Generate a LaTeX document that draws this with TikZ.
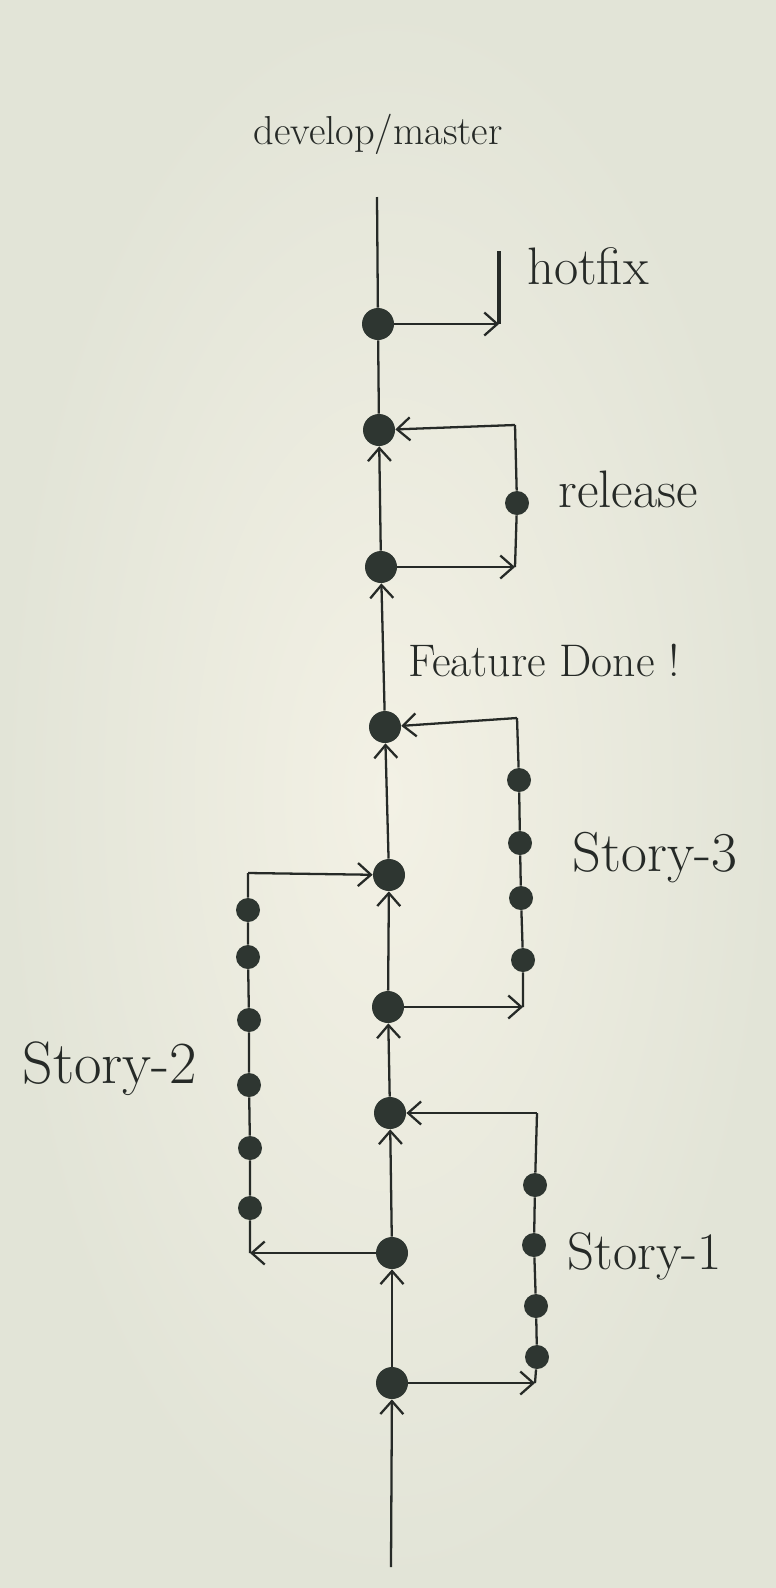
\documentclass[tikz,border=0pt]{standalone}
\usetikzlibrary{arrows.meta}
\definecolor{paper}{HTML}{F3F1E5}
\definecolor{paperedge}{HTML}{E2E4D7}
\definecolor{ink}{HTML}{262A27}
\definecolor{dot}{HTML}{2E3631}
\tikzset{
  commit/.style={circle,fill=dot,inner sep=0pt,minimum size=6.4mm},
  storycommit/.style={circle,fill=dot,inner sep=0pt,minimum size=4.8mm},
  branch/.style={draw=ink,line width=1.3pt},
  lbl/.style={text=ink,font=\fontsize{30}{34}\selectfont},
  >={Straight Barb[length=2.6mm,width=4.6mm]}
}
\begin{document}
\begin{tikzpicture}[x=0.2mm,y=-0.2mm]
\shade [inner color=paper,outer color=paperedge] (0,0) rectangle (776,1588);
\useasboundingbox (0,0) rectangle (776,1588);
\coordinate (top) at (377,197);
\coordinate (bot) at (391,1567);
\node [commit] (c1) at (378,324) {};
\node [commit] (c2) at (379,430) {};
\node [commit] (c3) at (381,567) {};
\node [commit] (c4) at (385,727) {};
\node [commit] (c5) at (389,875) {};
\node [commit] (c6) at (388,1007) {};
\node [commit] (c7) at (390,1113) {};
\node [commit] (c8) at (392,1253) {};
\node [commit] (c9) at (392,1383) {};
\draw [branch,->] (bot) -- (c9);
\draw [branch,->] (c9) -- (c8);
\draw [branch,->] (c8) -- (c7);
\draw [branch,->] (c7) -- (c6);
\draw [branch,->] (c6) -- (c5);
\draw [branch,->] (c5) -- (c4);
\draw [branch,->] (c4) -- (c3);
\draw [branch,->] (c3) -- (c2);
\draw [branch] (c2) -- (c1) -- (top);
\node [lbl,font=\fontsize{23}{28}\selectfont] (dm) at (378,134) {develop/master};
% hotfix
\coordinate (hf) at (499,324);
\coordinate (hftop) at (499,251);
\draw [branch,->] (c1) -- (hf);
\draw [branch,line width=2.4pt] (hf) -- (hftop);
\node [lbl] (hotfix) at (588,266) {hotfix};
% release
\coordinate (rb) at (515,567);
\coordinate (rt) at (515,425);
\node [storycommit] (r1) at (517,503) {};
\draw [branch,->] (c3) -- (rb);
\draw [branch] (rb) -- (r1) -- (rt);
\draw [branch,->] (rt) -- (c2);
\node [lbl] (release) at (628,489) {release};
\node [lbl,font=\fontsize{26}{30}\selectfont] (done) at (544,660) {Feature Done !};
% story-3
\coordinate (s3b) at (523,1007);
\coordinate (s3t) at (517,718);
\node [storycommit] (s31) at (519,780) {};
\node [storycommit] (s32) at (520,843) {};
\node [storycommit] (s33) at (521,898) {};
\node [storycommit] (s34) at (523,960) {};
\draw [branch,->] (c6) -- (s3b);
\draw [branch] (s3b) -- (s34) -- (s33) -- (s32) -- (s31) -- (s3t);
\draw [branch,->] (s3t) -- (c4);
\node [lbl,font=\fontsize{32}{36}\selectfont] (story3) at (655,858) {Story-3};
% story-2
\coordinate (s2b) at (250,1253);
\coordinate (s2t) at (248,873);
\node [storycommit] (s21) at (248,910) {};
\node [storycommit] (s22) at (248,957) {};
\node [storycommit] (s23) at (249,1020) {};
\node [storycommit] (s24) at (249,1085) {};
\node [storycommit] (s25) at (250,1148) {};
\node [storycommit] (s26) at (250,1208) {};
\draw [branch,->] (c8) -- (s2b);
\draw [branch] (s2b) -- (s26) -- (s25) -- (s24) -- (s23) -- (s22) -- (s21) -- (s2t);
\draw [branch,->] (s2t) -- (c5);
\node [lbl,font=\fontsize{34}{38}\selectfont] (story2) at (110,1069) {Story-2};
% story-1
\coordinate (s1b) at (535,1383);
\coordinate (s1t) at (537,1113);
\node [storycommit] (s11) at (535,1185) {};
\node [storycommit] (s12) at (534,1245) {};
\node [storycommit] (s13) at (536,1306) {};
\node [storycommit] (s14) at (537,1357) {};
\draw [branch,->] (c9) -- (s1b);
\draw [branch] (s1b) -- (s14) -- (s13) -- (s12) -- (s11) -- (s1t);
\draw [branch,->] (s1t) -- (c7);
\node [lbl] (story1) at (645,1256) {Story-1};
\end{tikzpicture}
\end{document}
